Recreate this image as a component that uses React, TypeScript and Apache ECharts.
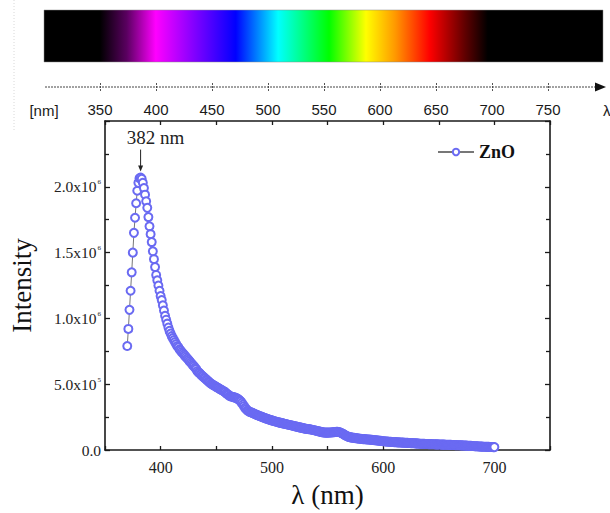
import React, { useEffect, useRef } from "react";
import * as echarts from "echarts";

// Photoluminescence spectrum of ZnO, 1 nm steps starting at 370 nm, intensity in units of 10^6
const startWavelength = 370;
const wavelengthStep = 1;
const intensity = [
  0.79, 0.92, 1.065, 1.21, 1.35, 1.5, 1.65, 1.765, 1.875, 1.97,
  2.03, 2.065, 2.07, 2.06, 2.03, 1.99, 1.94, 1.89, 1.84, 1.77,
  1.7, 1.64, 1.58, 1.51, 1.45, 1.39, 1.33, 1.29, 1.25, 1.21,
  1.17, 1.14, 1.1, 1.06, 1.02, 0.99, 0.96, 0.93, 0.905, 0.885,
  0.865, 0.85, 0.835, 0.82, 0.805, 0.79, 0.78, 0.765, 0.755, 0.745,
  0.735, 0.725, 0.715, 0.705, 0.695, 0.685, 0.675, 0.665, 0.655, 0.645,
  0.635, 0.625, 0.615, 0.6, 0.59, 0.585, 0.575, 0.565, 0.56, 0.55,
  0.545, 0.535, 0.53, 0.52, 0.515, 0.505, 0.5, 0.495, 0.49, 0.485,
  0.48, 0.475, 0.47, 0.465, 0.46, 0.455, 0.45, 0.445, 0.44, 0.43,
  0.425, 0.42, 0.41, 0.408, 0.405, 0.403, 0.4, 0.398, 0.395, 0.39,
  0.385, 0.378, 0.37, 0.358, 0.345, 0.333, 0.32, 0.31, 0.3, 0.295,
  0.29, 0.287, 0.284, 0.28, 0.276, 0.272, 0.268, 0.265, 0.262, 0.258,
  0.255, 0.252, 0.248, 0.245, 0.242, 0.239, 0.236, 0.233, 0.23, 0.227,
  0.225, 0.222, 0.22, 0.217, 0.215, 0.213, 0.21, 0.208, 0.206, 0.204,
  0.202, 0.2, 0.198, 0.196, 0.194, 0.192, 0.19, 0.188, 0.186, 0.184,
  0.182, 0.18, 0.178, 0.176, 0.174, 0.172, 0.17, 0.168, 0.166, 0.164,
  0.162, 0.161, 0.16, 0.159, 0.158, 0.156, 0.154, 0.152, 0.15, 0.148,
  0.146, 0.144, 0.142, 0.14, 0.138, 0.136, 0.134, 0.133, 0.132, 0.132,
  0.132, 0.132, 0.133, 0.133, 0.134, 0.135, 0.136, 0.137, 0.138, 0.138,
  0.137, 0.135, 0.131, 0.127, 0.122, 0.117, 0.112, 0.107, 0.103, 0.1,
  0.098, 0.096, 0.094, 0.093, 0.092, 0.09, 0.089, 0.088, 0.087, 0.086,
  0.085, 0.084, 0.083, 0.083, 0.082, 0.081, 0.08, 0.08, 0.079, 0.078,
  0.077, 0.076, 0.075, 0.074, 0.073, 0.072, 0.071, 0.07, 0.069, 0.068,
  0.067, 0.066, 0.065, 0.065, 0.064, 0.063, 0.063, 0.062, 0.061, 0.061,
  0.06, 0.06, 0.059, 0.058, 0.058, 0.057, 0.057, 0.056, 0.056, 0.055,
  0.055, 0.054, 0.054, 0.053, 0.053, 0.052, 0.052, 0.051, 0.051, 0.05,
  0.05, 0.049, 0.049, 0.048, 0.048, 0.047, 0.047, 0.047, 0.046, 0.046,
  0.046, 0.045, 0.045, 0.045, 0.044, 0.044, 0.044, 0.043, 0.043, 0.043,
  0.042, 0.042, 0.042, 0.041, 0.041, 0.041, 0.04, 0.04, 0.04, 0.039,
  0.039, 0.039, 0.038, 0.038, 0.038, 0.037, 0.037, 0.036, 0.036, 0.036,
  0.035, 0.035, 0.034, 0.034, 0.033, 0.033, 0.032, 0.032, 0.031, 0.031,
  0.03, 0.03, 0.029, 0.029, 0.028, 0.028, 0.027, 0.027, 0.026, 0.026,
  0.025, 0.025, 0.025, 0.024, 0.024, 0.024, 0.023, 0.023, 0.023, 0.022,
  0.022,
];

const seriesName = "ZnO";
const xTickLabels = ["400", "500", "600", "700"];
const yTickLabels = ["0.0", "5.0x10{s|5}", "1.0x10{s|6}", "1.5x10{s|6}", "2.0x10{s|6}"];
const spectrumTicks = [350, 400, 450, 500, 550, 600, 650, 700, 750];
const peakLabel = "382 nm";

const SERIF = "Liberation Serif";
const SANS = "Liberation Sans";
const AXIS_COLOR = "#1a1a1a";
const MARKER_COLOR = "#6a6af2";

export default function App() {
  const ref = useRef<HTMLDivElement>(null);

  useEffect(() => {
    if (!ref.current) return;
    const chart = echarts.init(ref.current, undefined, { renderer: "svg" });

    const data = intensity.map((v, i) => [startWavelength + i * wavelengthStep, v]);
    const peakIndex = intensity.indexOf(Math.max(...intensity));
    const peakValue = intensity[peakIndex];

    const frameAxisX = (position: "bottom" | "top", showLabel: boolean) => ({
      type: "value",
      gridIndex: 0,
      position,
      min: 350,
      max: 750,
      interval: 50,
      axisLine: { show: true, onZero: false, lineStyle: { color: AXIS_COLOR, width: 1.6 } },
      axisTick: { show: true, inside: true, length: 4, lineStyle: { color: AXIS_COLOR, width: 1.3 } },
      splitLine: { show: false },
      axisLabel: {
        show: showLabel,
        margin: 9,
        fontFamily: SERIF,
        fontSize: 16,
        color: "#222",
        formatter: (v: number) => (xTickLabels.includes(String(v)) ? String(v) : ""),
      },
    });

    const frameAxisY = (position: "left" | "right", showLabel: boolean) => ({
      type: "value",
      gridIndex: 0,
      position,
      min: 0,
      max: 2.5,
      interval: 0.5,
      axisLine: { show: true, onZero: false, lineStyle: { color: AXIS_COLOR, width: 1.6 } },
      axisTick: { show: true, inside: true, length: 5, lineStyle: { color: AXIS_COLOR, width: 1.3 } },
      minorTick: { show: true, splitNumber: 2, length: 4, lineStyle: { color: AXIS_COLOR, width: 1.3 } },
      splitLine: { show: false },
      axisLabel: {
        show: showLabel,
        margin: 4,
        fontFamily: SERIF,
        fontSize: 15.5,
        color: "#222",
        showMaxLabel: false,
        formatter: (v: number) => yTickLabels[Math.round(v / 0.5)] ?? "",
        rich: {
          s: { fontFamily: SERIF, fontSize: 7, color: "#222", verticalAlign: "top", padding: [0, 0, 5, 1] },
        },
      },
    });

    chart.setOption({
      animation: false,
      backgroundColor: "#ffffff",
      grid: [
        { left: 100, right: 60, top: 121, bottom: 54, show: false },
        { left: 100, right: 62, top: 83, height: 8, show: false },
      ],
      legend: {
        data: [seriesName],
        left: 437,
        top: 143,
        padding: 0,
        itemWidth: 36,
        itemHeight: 8,
        itemGap: 4,
        textStyle: { fontFamily: SERIF, fontWeight: "bold", fontSize: 18, color: "#111" },
      },
      xAxis: [
        {
          ...frameAxisX("bottom", true),
          name: "λ (nm)",
          nameLocation: "middle",
          nameGap: 31,
          nameTextStyle: { fontFamily: SERIF, fontSize: 27, color: "#111" },
        },
        frameAxisX("top", false),
        {
          type: "value",
          gridIndex: 1,
          min: 350,
          max: 750,
          interval: 50,
          axisLine: { show: false },
          axisTick: { show: false },
          splitLine: { show: true, lineStyle: { color: "#555", width: 1, type: [2, 1] } },
          axisLabel: {
            margin: 11,
            fontFamily: SANS,
            fontSize: 15,
            color: "#1a1a1a",
            formatter: (v: number) => (spectrumTicks.includes(v) ? String(v) : ""),
          },
        },
      ],
      yAxis: [
        {
          ...frameAxisY("left", true),
          name: "Intensity",
          nameLocation: "middle",
          nameGap: 70,
          nameTextStyle: { fontFamily: SERIF, fontSize: 27, color: "#111" },
        },
        frameAxisY("right", false),
        { type: "value", gridIndex: 1, min: 0, max: 1, show: false },
      ],
      series: [
        {
          type: "line",
          name: seriesName,
          xAxisIndex: 0,
          yAxisIndex: 0,
          data,
          symbol: "emptyCircle",
          symbolSize: 8,
          showSymbol: true,
          showAllSymbol: true,
          itemStyle: { color: MARKER_COLOR, borderWidth: 1 },
          lineStyle: { color: "#777", width: 1 },
          emphasis: { disabled: true },
        },
      ],
    });

    const [px, py] = chart.convertToPixel({ gridIndex: 0 }, [startWavelength + peakIndex * wavelengthStep, peakValue]) as number[];
    const tipY = py - 6;

    chart.setOption({
      graphic: [
        {
          type: "line",
          silent: true,
          shape: { x1: 14, y1: 0, x2: 14, y2: 132 },
          style: { stroke: "#d8d8d8", lineWidth: 1, lineDash: [1, 2] },
        },
        {
          type: "rect",
          silent: true,
          shape: { x: 44, y: 10, width: 559, height: 52 },
          style: {
            stroke: "#888",
            lineWidth: 0.5,
            fill: new echarts.graphic.LinearGradient(0, 0, 1, 0, [
              { offset: 0, color: "#000000" },
              { offset: 0.1, color: "#000000" },
              { offset: 0.148, color: "#5a0060" },
              { offset: 0.2, color: "#ff00ff" },
              { offset: 0.27, color: "#8000ff" },
              { offset: 0.343, color: "#0000ff" },
              { offset: 0.419, color: "#00ffff" },
              { offset: 0.51, color: "#00ff00" },
              { offset: 0.576, color: "#ffff00" },
              { offset: 0.628, color: "#ff9900" },
              { offset: 0.69, color: "#ff0000" },
              { offset: 0.753, color: "#600000" },
              { offset: 0.794, color: "#000000" },
              { offset: 1, color: "#000000" },
            ]),
          },
        },
        {
          type: "line",
          silent: true,
          shape: { x1: 45, y1: 87, x2: 597, y2: 87 },
          style: { stroke: "#444", lineWidth: 1, lineDash: [2, 1] },
        },
        {
          type: "polygon",
          silent: true,
          shape: { points: [[595, 82.5], [606, 87], [595, 91.5]] },
          style: { fill: "#111" },
        },
        {
          type: "text",
          silent: true,
          x: 44,
          y: 110,
          style: { text: "[nm]", fontFamily: SANS, fontSize: 15, fill: "#1a1a1a", align: "center", verticalAlign: "middle" },
        },
        {
          type: "text",
          silent: true,
          x: 603,
          y: 110,
          style: { text: "λ", fontFamily: SANS, fontSize: 15, fill: "#1a1a1a", align: "left", verticalAlign: "middle" },
        },
        {
          type: "text",
          silent: true,
          x: px + 15,
          y: py - 40,
          style: { text: peakLabel, fontFamily: SERIF, fontSize: 19, fill: "#222", align: "center", verticalAlign: "middle" },
        },
        {
          type: "line",
          silent: true,
          shape: { x1: px, y1: py - 28, x2: px, y2: tipY - 4 },
          style: { stroke: "#222", lineWidth: 1 },
        },
        {
          type: "polygon",
          silent: true,
          shape: { points: [[px - 2.5, tipY - 6], [px, tipY], [px + 2.5, tipY - 6]] },
          style: { fill: "#222" },
        },
      ],
    });

    return () => chart.dispose();
  }, []);

  return <div ref={ref} style={{ position: "fixed", left: 0, top: 0, width: 610, height: 513 }} />;
}
